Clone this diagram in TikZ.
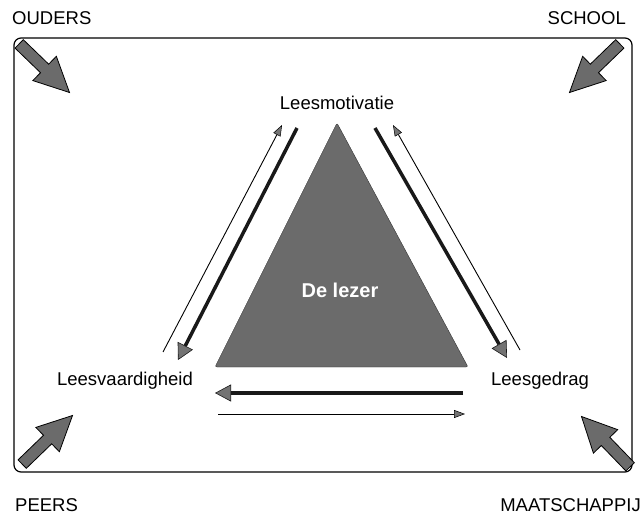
\documentclass[tikz,border=0pt]{standalone}
\usepackage{fontspec}
\setmainfont{Liberation Sans}
\usepackage{tikz}
\usetikzlibrary{arrows.meta, shapes.arrows, positioning}
\definecolor{lezergray}{gray}{0.42}
\definecolor{tipgray}{gray}{0.45}
\tikzset{
    lbl/.style = {inner sep=0pt, font=\fontsize{18.5}{22}\selectfont},
    influence/.style = {single arrow, draw=black, fill=lezergray, line width=0.8pt,
        minimum height=70pt, inner xsep=0pt, inner ysep=5.5pt,
        single arrow head extend=11pt, single arrow tip angle=52},
    strong/.style = {line width=3.5pt, black!90,
        -{Triangle[length=16pt, width=17pt, line width=0.6pt, fill=tipgray]}},
    weak/.style = {line width=0.9pt,
        -{Triangle[length=11pt, width=8pt, line width=0.5pt, fill=tipgray]}},
}

\begin{document}
\begin{tikzpicture}[x=1pt, y=1pt]
        \useasboundingbox (0,0) rectangle (642,517);
        \draw[line width=1.2pt, rounded corners=7pt] (14,45) rectangle (632,479);
        % de lezer
        \coordinate (apex) at (337,394);
        \coordinate (baseL) at (215,150);
        \coordinate (baseR) at (468,150);
        \filldraw[fill=lezergray, draw=black!80, rounded corners=2pt]
            (apex) -- (baseR) -- (baseL) -- cycle;
        \node (lezer) [white, font=\fontsize{20}{24}\selectfont\bfseries] at (340,227) {De lezer};
        \node (motivatie) [lbl] at (337,414) {Leesmotivatie};
        \node (vaardigheid) [lbl] at (125,136) {Leesvaardigheid};
        \node (gedrag) [lbl] at (540,136) {Leesgedrag};
        % omgeving
        \node (ouders) [lbl, anchor=west] at (12,499) {OUDERS};
        \node (school) [lbl, anchor=east] at (626,499) {SCHOOL};
        \node (peers) [lbl, anchor=west] at (15,12) {PEERS};
        \node (maatschappij) [lbl, anchor=east] at (641,12) {MAATSCHAPPIJ};
        \node (fromouders) [influence, rotate=-44] at (40,453) {};
        \node (fromschool) [influence, rotate=-136] at (599,453) {};
        \node (frompeers) [influence, rotate=44] at (43,73) {};
        \node (frommaatschappij) [influence, rotate=134] at (610,71) {};
        % pijlen
        \coordinate (vm-start) at (163,165);
        \coordinate (vm-end) at (282,392);
        \coordinate (mv-start) at (297,389);
        \coordinate (mv-end) at (178,157);
        \coordinate (mg-start) at (375,389);
        \coordinate (mg-end) at (507,159);
        \coordinate (gm-start) at (520,167);
        \coordinate (gm-end) at (393,392);
        \coordinate (gv-start) at (463,124);
        \coordinate (gv-end) at (215,124);
        \coordinate (vg-start) at (218,103);
        \coordinate (vg-end) at (465,103);
        \draw[weak] (vm-start) -- (vm-end);
        \draw[strong] (mv-start) -- (mv-end);
        \draw[strong] (mg-start) -- (mg-end);
        \draw[weak] (gm-start) -- (gm-end);
        \draw[strong] (gv-start) -- (gv-end);
        \draw[weak] (vg-start) -- (vg-end);
\end{tikzpicture}
\end{document}
